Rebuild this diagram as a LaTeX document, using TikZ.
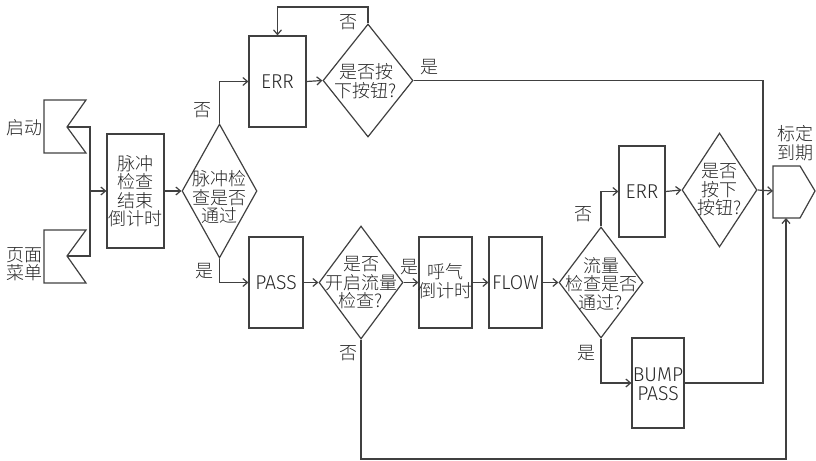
\documentclass[tikz,border=0pt]{standalone}
\usepackage{fontspec}
\setmainfont{Noto Sans CJK SC}[UprightFont={* Light}]
\newfontfamily\lat[FakeStretch=0.97]{Fira Sans Light}
\newcommand{\latf}{\fontsize{15}{14}\selectfont\lat}
\usetikzlibrary{arrows.meta,shapes.geometric}
\begin{document}
\begin{tikzpicture}[x=0.75pt,y=-0.75pt,
  every node/.style={font=\fontsize{13.5}{13.9}\selectfont, text=black!85, inner sep=0pt},
  conn/.style={draw=black!75, line width=0.9pt},
  arr/.style={conn, -{Straight Barb[length=3.5pt,width=6pt]}},
  box/.style={draw=black!75, line width=0.9pt, rectangle, align=center},
  dia/.style={draw=black!75, line width=0.9pt, diamond, inner sep=0pt},
  txt/.style={align=center},
  flag/.style={draw=black!75, line width=0.9pt, line join=miter}
]
\useasboundingbox (0,0) rectangle (816,460);

% flags
\draw[flag] (44,100) -- (86,100) -- (67,127) -- (86,153) -- (44,153) -- cycle;
\draw[flag] (44,230) -- (86,230) -- (67,256) -- (86,283) -- (44,283) -- cycle;
\coordinate (f1) at (67,127);
\coordinate (f2) at (67,256);
\coordinate (bt) at (90,127);
\coordinate (bb) at (90,256);
\coordinate (bj) at (90,191);
\node (l-start) at (25,128) {启动};
\node[txt] (l-menu) at (25,264) {页面\\菜单};

% pentagon
\draw[flag] (773,166) -- (800,166) -- (815,191) -- (800,218) -- (773,218) -- cycle;
\coordinate (pw) at (773,191);
\coordinate (ps) at (786,218);
\node[txt] (l-cal) at (795,143) {标定\\到期};

% boxes
\node[box, minimum width=42.75pt, minimum height=85.5pt] (b1) at (135.5,191) {脉冲\\检查\\结束\\倒计时};
\node[box, minimum width=42.75pt, minimum height=68.25pt] (err1) at (277.5,81.5) {\latf ERR};
\node[box, minimum width=40.5pt, minimum height=68.25pt] (pass) at (276,282.5) {\latf PASS};
\node[box, minimum width=39.75pt, minimum height=68.25pt] (br) at (445.5,282.5) {};
\node[txt] (t-br) at (445.5,281) {呼气\\倒计时};
\node[box, minimum width=39.75pt, minimum height=68.25pt] (flow) at (515.5,282.5) {\latf FLOW};
\node[box, minimum width=34.5pt, minimum height=68.25pt] (err2) at (642,191.5) {\latf ERR};
\node[box, minimum width=39pt, minimum height=67.5pt] (bump) at (658,383) {};
\node[txt, font=\latf] (t-bump) at (658,384) {BUMP\\PASS};

% diamonds
\node[dia, minimum width=56.25pt, minimum height=100.5pt] (d1) at (219.5,191) {};
\node[txt] (t-d1) at (219.5,197) {脉冲检\\查是否\\通过};
\node[dia, minimum width=67.5pt, minimum height=84.75pt] (d2) at (368,80.5) {};
\node[txt] (t-d2) at (366,81) {是否按\\下按钮?};
\node[dia, minimum width=63pt, minimum height=84.75pt] (d3) at (361,282.5) {};
\node[txt] (t-d3) at (361,283) {是否\\开启流量\\检查?};
\node[dia, minimum width=63pt, minimum height=83.25pt] (d4) at (601,282.5) {};
\node[txt] (t-d4) at (601,284) {流量\\检查是否\\通过?};
\node[dia, minimum width=56.25pt, minimum height=85.5pt] (d5) at (719.5,190) {};
\node[txt] (t-d5) at (719.5,190) {是否\\按下\\按钮?};

% branch labels
\node (n1) at (202,110) {否};
\node (y1) at (204,271) {是};
\node (n2) at (348,22) {否};
\node (y2) at (429,67) {是};
\node (y3) at (409,267) {是};
\node (n3) at (348,353) {否};
\node (n4) at (583,214) {否};
\node (y4) at (586,353) {是};

% connectors
\draw[conn] (f1) -- (bt) -- (bb) -- (f2);
\draw[arr] (bj) -- (b1.west);
\draw[arr] (b1.east) -- (d1.west);
\draw[arr] (d1.north) |- (err1.west);
\draw[arr] (d1.south) |- (pass.west);
\draw[arr] (err1.east) -- (d2.west);
\coordinate (lp) at (368,7);
\draw[arr] (d2.north) -- (lp) -| (err1.north);
\coordinate (rt) at (763,80.5);
\coordinate (rb) at (763,383);
\draw[conn] (d2.east) -- (rt) -- (rb) -- (bump.east);
\draw[arr] (pass.east) -- (d3.west);
\draw[arr] (d3.east) -- (br.west);
\draw[arr] (br.east) -- (flow.west);
\draw[arr] (flow.east) -- (d4.west);
\draw[arr] (d4.north) |- (err2.west);
\draw[arr] (err2.east) -- (d5.west);
\draw[arr] (d5.east) -- (pw);
\draw[arr] (d4.south) |- (bump.west);
\coordinate (bl) at (361,459);
\draw[arr] (d3.south) -- (bl) -| (ps);
\end{tikzpicture}
\end{document}
